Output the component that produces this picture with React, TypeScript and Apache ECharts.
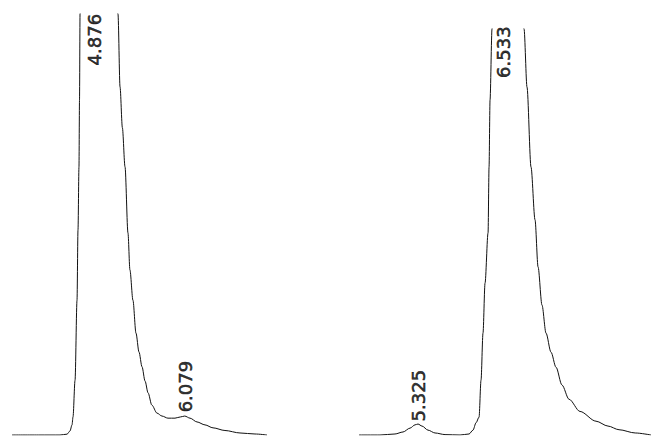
import React, { useEffect, useRef } from "react";
import * as echarts from "echarts";

// Left chromatogram (time in min, signal in % of displayed full scale)
const leftTimes = [3.79, 4.16, 4.425, 4.518, 4.557, 4.584, 4.597, 4.624, 4.65, 4.663, 4.676, 4.683, 4.69, 4.876, 5.192, 5.219, 5.25, 5.285, 5.324, 5.35, 5.39, 5.43, 5.47, 5.51, 5.55, 5.59, 5.64, 5.708, 5.774, 5.853, 5.946, 6.02, 6.075, 6.145, 6.237, 6.343, 6.449, 6.607, 6.806, 7.004, 7.163];
const leftSignal = [0, 0, 0, 0.2, 0.95, 2.4, 4.3, 13, 32, 48.7, 63.7, 79.6, 100, 400, 100, 82.7, 73, 63.7, 48, 39.2, 32, 24.2, 19.7, 16.2, 12.8, 10, 7.1, 5.2, 4.5, 4.0, 4.0, 4.3, 4.5, 4.0, 3.1, 2.4, 1.7, 1.07, 0.48, 0.24, 0];

// Right chromatogram
const rightTimes = [4.487, 4.785, 4.998, 5.112, 5.212, 5.283, 5.325, 5.382, 5.467, 5.567, 5.709, 5.922, 6.05, 6.106, 6.149, 6.192, 6.22, 6.248, 6.277, 6.32, 6.334, 6.348, 6.376, 6.533, 6.831, 6.873, 6.93, 6.987, 7.03, 7.086, 7.143, 7.214, 7.285, 7.37, 7.47, 7.626, 7.853, 8.023, 8.18, 8.41, 8.634];
const rightSignal = [0, 0, 0.25, 0.74, 1.7, 2.5, 2.7, 2.2, 1.2, 0.5, 0.1, 0, 0.25, 1.2, 3, 4.4, 13.5, 25.1, 37.4, 49.8, 66, 82.5, 100, 400, 100, 85.7, 66, 53, 41.4, 32, 25.1, 20.4, 16.7, 12.3, 8.8, 5.8, 3.4, 2.2, 1.3, 0.5, 0];

// Peak retention-time labels
const leftMainPeaks = [4.876];
const leftMinorPeaks = [6.079];
const rightMainPeaks = [6.533];
const rightMinorPeaks = [5.325];

export default function App() {
  const ref = useRef<HTMLDivElement>(null);
  useEffect(() => {
    if (!ref.current) return;
    const chart = echarts.init(ref.current, undefined, { renderer: "svg" });
    const lineColor = "#111";
    const labelStyle = {
      show: true,
      rotate: 90,
      position: "inside" as const,
      color: "#000",
      fontFamily: "DejaVu Sans",
      fontSize: 18,
      textBorderColor: "#000",
      textBorderWidth: 0.6,
      formatter: (p: any) => p.value[0].toFixed(3),
    };
    const labelSeries = (times: number[], yv: number, idx: number) => ({
      type: "scatter",
      xAxisIndex: idx,
      yAxisIndex: idx,
      symbolSize: 1,
      itemStyle: { color: "rgba(0,0,0,0)" },
      data: times.map((t) => [t, yv]),
      label: labelStyle,
      silent: true,
    });
    const axisCommon = { show: false, type: "value" as const };
    const lineSeries = (times: number[], vals: number[], idx: number) => ({
      type: "line",
      xAxisIndex: idx,
      yAxisIndex: idx,
      data: times.map((t, i) => [t, vals[i]]),
      showSymbol: false,
      clip: true,
      lineStyle: { color: lineColor, width: 1 },
      smooth: 0.3,
      smoothMonotone: "x",
    });
    chart.setOption({
      animation: false,
      backgroundColor: "#ffffff",
      grid: [
        { left: 12, width: 255, top: 14, bottom: 4 },
        { left: 359, right: 20, top: 29, bottom: 4 },
      ],
      xAxis: [
        { ...axisCommon, gridIndex: 0, min: 3.79, max: 7.163 },
        { ...axisCommon, gridIndex: 1, min: 4.487, max: 8.634 },
      ],
      yAxis: [
        { ...axisCommon, gridIndex: 0, min: 0, max: 100 },
        { ...axisCommon, gridIndex: 1, min: 0, max: 100 },
      ],
      series: [
        lineSeries(leftTimes, leftSignal, 0),
        lineSeries(rightTimes, rightSignal, 1),
        labelSeries(leftMainPeaks, 93.9, 0),
        labelSeries(leftMinorPeaks, 11.5, 0),
        labelSeries(rightMainPeaks, 94.3, 1),
        labelSeries(rightMinorPeaks, 9.7, 1),
      ],
    });
    return () => chart.dispose();
  }, []);
  return <div ref={ref} style={{ width: 671, height: 439, position: "absolute", left: 0, top: 0 }} />;
}
